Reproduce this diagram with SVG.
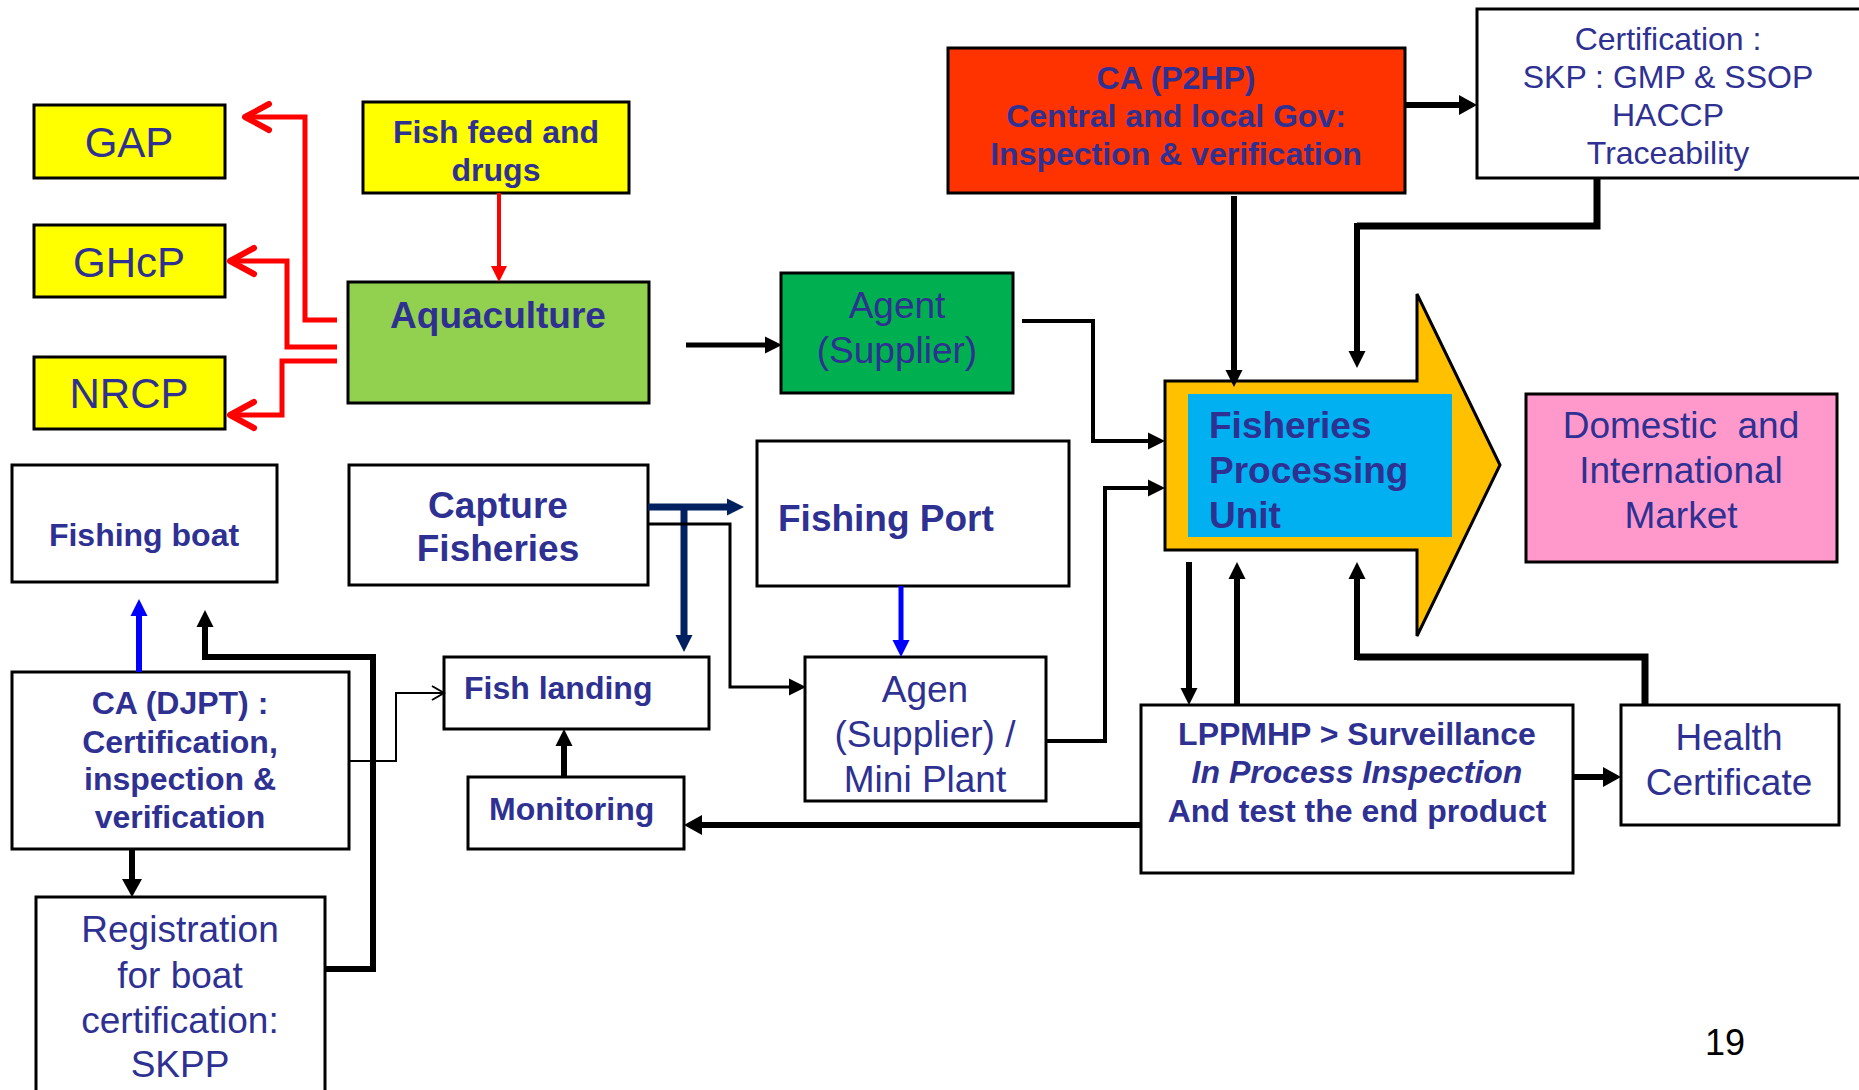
<svg xmlns="http://www.w3.org/2000/svg" width="1859" height="1090" viewBox="0 0 1859 1090">
<style>
.bx{stroke:#000;stroke-width:3}
.t{font-family:"Liberation Sans",Arial,sans-serif;fill:#2E3192}
.b{font-weight:bold}
.c{text-anchor:middle}
.s32{font-size:32px}
.s37{font-size:37px}
.k{fill:none;stroke:#000}
.r{fill:none;stroke:#FF0000;stroke-width:5}
</style>
<defs>
<marker id="ah" markerUnits="userSpaceOnUse" markerWidth="17" markerHeight="17" refX="0" refY="8.5" orient="auto" overflow="visible"><path d="M0,0 L17,8.5 L0,17 z" fill="#000"/></marker>
<marker id="ahL" markerUnits="userSpaceOnUse" markerWidth="18" markerHeight="20" refX="0" refY="10" orient="auto" overflow="visible"><path d="M0,0 L18,10 L0,20 z" fill="#000"/></marker>
<marker id="ahR" markerUnits="userSpaceOnUse" markerWidth="16" markerHeight="16" refX="0" refY="8" orient="auto" overflow="visible"><path d="M0,0 L16,8 L0,16 z" fill="#FF0000"/></marker>
<marker id="ahN" markerUnits="userSpaceOnUse" markerWidth="17" markerHeight="17" refX="0" refY="8.5" orient="auto" overflow="visible"><path d="M0,0 L17,8.5 L0,17 z" fill="#002060"/></marker>
<marker id="ahB" markerUnits="userSpaceOnUse" markerWidth="17" markerHeight="17" refX="0" refY="8.5" orient="auto" overflow="visible"><path d="M0,0 L17,8.5 L0,17 z" fill="#0000FF"/></marker>
<marker id="chR" markerUnits="userSpaceOnUse" markerWidth="24" markerHeight="26" refX="24" refY="13" orient="auto" overflow="visible"><path d="M0,0 L24,13 L0,26" fill="none" stroke="#FF0000" stroke-width="6" stroke-linejoin="round" stroke-linecap="round"/></marker>
<marker id="chK" markerUnits="userSpaceOnUse" markerWidth="12" markerHeight="14" refX="12" refY="7" orient="auto" overflow="visible"><path d="M0,0 L12,7 L0,14" fill="none" stroke="#000" stroke-width="2"/></marker>
</defs>
<rect width="1859" height="1090" fill="#fff"/>

<g id="gap"><rect class="bx" x="34" y="105" width="191" height="73" fill="#FFFF00"/><text class="t c" x="129" y="157" font-size="42">GAP</text></g>
<g id="ghcp"><rect class="bx" x="34" y="225" width="191" height="72" fill="#FFFF00"/><text class="t c" x="129" y="277" font-size="42">GHcP</text></g>
<g id="nrcp"><rect class="bx" x="34" y="357" width="191" height="72" fill="#FFFF00"/><text class="t c" x="129" y="408" font-size="42">NRCP</text></g>
<g id="fishfeed"><rect class="bx" x="363" y="102" width="266" height="91" fill="#FFFF00"/><text class="t b c s32" x="496" y="143">Fish feed and</text><text class="t b c s32" x="496" y="181">drugs</text></g>
<g id="aquaculture"><rect class="bx" x="348" y="282" width="301" height="121" fill="#92D050"/><text class="t b c s37" x="498" y="328">Aquaculture</text></g>
<g id="agent"><rect class="bx" x="781" y="273" width="232" height="120" fill="#00B050"/><text class="t c s37" x="897" y="318">Agent</text><text class="t c s37" x="897" y="363">(Supplier)</text></g>
<g id="cap2hp"><rect class="bx" x="948" y="48" width="457" height="145" fill="#FF3300"/><text class="t b c s32" x="1176" y="89">CA (P2HP)</text><text class="t b c s32" x="1176" y="127">Central and local Gov:</text><text class="t b c s32" x="1176" y="165">Inspection &amp; verification</text></g>
<g id="certification"><rect class="bx" x="1477" y="9" width="400" height="169" fill="#fff"/><text class="t c s32" x="1668" y="50">Certification :</text><text class="t c s32" x="1668" y="88">SKP : GMP &amp; SSOP</text><text class="t c s32" x="1668" y="126">HACCP</text><text class="t c s32" x="1668" y="164">Traceability</text></g>
<g id="fpu"><path d="M1165,381 H1417 V294 L1500,465 L1417,636 V550 H1165 Z" fill="#FFC000" stroke="#000" stroke-width="3"/><rect x="1188" y="394" width="264" height="143" fill="#00B0F0"/><text class="t b s37" x="1209" y="438">Fisheries</text><text class="t b s37" x="1209" y="483">Processing</text><text class="t b s37" x="1209" y="528">Unit</text></g>
<g id="market"><rect class="bx" x="1526" y="394" width="311" height="168" fill="#FF99CC"/><text class="t c s37" x="1681" y="438" xml:space="preserve">Domestic  and</text><text class="t c s37" x="1681" y="483">International</text><text class="t c s37" x="1681" y="528">Market</text></g>
<g id="fishingboat"><rect class="bx" x="12" y="465" width="265" height="117" fill="#fff"/><text class="t b c s32" x="144" y="546">Fishing boat</text></g>
<g id="capture"><rect class="bx" x="349" y="465" width="299" height="120" fill="#fff"/><text class="t b c s37" x="498" y="518">Capture</text><text class="t b c s37" x="498" y="561">Fisheries</text></g>
<g id="fishingport"><rect class="bx" x="757" y="441" width="312" height="145" fill="#fff"/><text class="t b s37" x="778" y="531">Fishing Port</text></g>
<g id="fishlanding"><rect class="bx" x="444" y="657" width="265" height="72" fill="#fff"/><text class="t b s32" x="464" y="699">Fish landing</text></g>
<g id="monitoring"><rect class="bx" x="468" y="777" width="216" height="72" fill="#fff"/><text class="t b s32" x="489" y="820">Monitoring</text></g>
<g id="agen"><rect class="bx" x="805" y="657" width="241" height="144" fill="#fff"/><text class="t c s37" x="925" y="702">Agen</text><text class="t c s37" x="925" y="747">(Supplier) /</text><text class="t c s37" x="925" y="792">Mini Plant</text></g>
<g id="lppmhp"><rect class="bx" x="1141" y="705" width="432" height="168" fill="#fff"/><text class="t b c s32" x="1357" y="745">LPPMHP &gt; Surveillance</text><text class="t b c s32" x="1357" y="783" font-style="italic">In Process Inspection</text><text class="t b c s32" x="1357" y="822">And test the end product</text></g>
<g id="health"><rect class="bx" x="1621" y="705" width="218" height="120" fill="#fff"/><text class="t c s37" x="1729" y="750">Health</text><text class="t c s37" x="1729" y="795">Certificate</text></g>
<g id="cadjpt"><rect class="bx" x="12" y="672" width="337" height="177" fill="#fff"/><text class="t b c s32" x="180" y="714">CA (DJPT) :</text><text class="t b c s32" x="180" y="753">Certification,</text><text class="t b c s32" x="180" y="790">inspection &amp;</text><text class="t b c s32" x="180" y="828">verification</text></g>
<g id="registration"><rect class="bx" x="36" y="897" width="289" height="200" fill="#fff"/><text class="t c s37" x="180" y="942">Registration</text><text class="t c s37" x="180" y="988">for boat</text><text class="t c s37" x="180" y="1033">certification:</text><text class="t c s37" x="180" y="1077">SKPP</text></g>

<g id="connectors">
<path class="r" d="M337,320 H305 V117 H245" marker-end="url(#chR)"/>
<path class="r" d="M337,347 H287 V261 H230" marker-end="url(#chR)"/>
<path class="r" d="M337,361 H282 V415 H230" marker-end="url(#chR)"/>
<path d="M499,193 V266" fill="none" stroke="#FF0000" stroke-width="4" marker-end="url(#ahR)"/>
<path class="k" stroke-width="5" d="M686,345 H765" marker-end="url(#ah)"/>
<path class="k" stroke-width="6" d="M1405,105 H1459" marker-end="url(#ahL)"/>
<path class="k" stroke-width="6" d="M1234,196 V370" marker-end="url(#ah)"/>
<path class="k" stroke-width="7" d="M1597,178 V226 H1357"/>
<path class="k" stroke-width="6" d="M1357,223 V351" marker-end="url(#ah)"/>
<path class="k" stroke-width="4" d="M1022,321 H1093 V441 H1148" marker-end="url(#ah)"/>
<path class="k" stroke-width="4" d="M1046,741 H1105 V488 H1148" marker-end="url(#ah)"/>
<path class="k" stroke-width="6" d="M1189,562 V688" marker-end="url(#ah)"/>
<path class="k" stroke-width="6" d="M1237,705 V579" marker-end="url(#ah)"/>
<path class="k" stroke-width="7" d="M1645,705 V657 H1357"/>
<path class="k" stroke-width="6" d="M1357,660 V579" marker-end="url(#ah)"/>
<path class="k" stroke-width="6" d="M1573,777 H1603" marker-end="url(#ahL)"/>
<path class="k" stroke-width="6" d="M1141,825 H702" marker-end="url(#ahL)"/>
<path class="k" stroke-width="6" d="M564,777 V746" marker-end="url(#ah)"/>
<path d="M901,586 V640" fill="none" stroke="#0000FF" stroke-width="5" marker-end="url(#ahB)"/>
<path d="M648,507 H727" fill="none" stroke="#002060" stroke-width="7" marker-end="url(#ahN)"/>
<path d="M684,507 V635" fill="none" stroke="#002060" stroke-width="7" marker-end="url(#ahN)"/>
<path class="k" stroke-width="3" d="M648,524 H730 V687 H789" marker-end="url(#ah)"/>
<path d="M139,672 V616" fill="none" stroke="#0000FF" stroke-width="6" marker-end="url(#ahB)"/>
<path class="k" stroke-width="6" d="M132,849 V879" marker-end="url(#ahL)"/>
<path class="k" stroke-width="6" d="M325,969 H373 V657 H205 V627" marker-end="url(#ah)"/>
<path class="k" stroke-width="2" d="M349,761 H396 V693 H444" marker-end="url(#chK)"/>
</g>
<text x="1725" y="1055" font-family="Liberation Sans,Arial,sans-serif" font-size="36" fill="#000" text-anchor="middle">19</text>
</svg>
